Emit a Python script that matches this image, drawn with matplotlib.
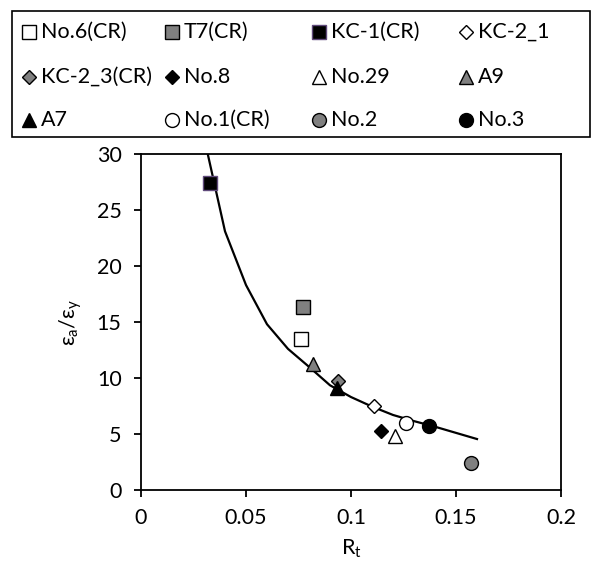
import matplotlib
matplotlib.use("Agg")
import matplotlib.pyplot as plt
from matplotlib.lines import Line2D
from matplotlib.patches import Rectangle
from matplotlib.ticker import FuncFormatter

plt.rcParams["font.family"] = ["Lato", "DejaVu Sans"]
plt.rcParams["mathtext.fontset"] = "custom"
plt.rcParams["mathtext.rm"] = "Lato"
plt.rcParams["mathtext.it"] = "Lato:italic"

# specimens, in legend order (row by row)
labels = ["No.6(CR)", "T7(CR)", "KC-1(CR)", "KC-2_1",
          "KC-2_3(CR)", "No.8", "No.29", "A9",
          "A7", "No.1(CR)", "No.2", "No.3"]
rt = [0.0760, 0.0770, 0.0329, 0.1111,
      0.0940, 0.1141, 0.1211, 0.0818,
      0.0932, 0.1262, 0.1570, 0.1371]
strain_ratio = [13.5, 16.3, 27.4, 7.5,
                9.7, 5.3, 4.8, 11.25,
                9.1, 5.95, 2.45, 5.75]

# fitted curve
fit_rt = [0.03, 0.04, 0.05, 0.06, 0.07, 0.08, 0.09, 0.10,
          0.11, 0.12, 0.13, 0.14, 0.15, 0.16]
fit_ratio = [31.5, 23.1, 18.3, 14.8, 12.6, 11.0, 9.35, 8.3,
             7.45, 6.7, 6.15, 5.65, 5.1, 4.55]

# marker styles
GREY = "#808080"
markers = ["s", "s", "s", "D", "D", "D", "^", "^", "^", "o", "o", "o"]
faces = ["white", GREY, "black", "white", GREY, "black",
         "white", GREY, "black", "white", GREY, "black"]
edges = ["black", "black", "#604A7B", "black", "black", "black",
         "black", "black", "black", "black", "black", "black"]
msizes = [9.5, 9.5, 9.5, 7, 7, 7, 10, 10, 10, 10, 10, 10]

W, H = 601, 567
FS = 15.5
fig = plt.figure(figsize=(W / 100, H / 100), dpi=100)
ax = fig.add_axes([141 / W, 1 - 490 / H, 420 / W, 336 / H])

ax.plot(fit_rt, fit_ratio, color="black", lw=1.6, zorder=2)

for i, lab in enumerate(labels):
    ax.plot([rt[i]], [strain_ratio[i]], linestyle="none",
            marker=markers[i], markersize=msizes[i],
            markerfacecolor=faces[i], markeredgecolor=edges[i],
            markeredgewidth=1.0, label=lab, zorder=3)

ax.set_xlim(0, 0.2)
ax.set_ylim(0, 30)
ax.set_xticks([0, 0.05, 0.1, 0.15, 0.2])
ax.set_yticks(range(0, 31, 5))
ax.xaxis.set_major_formatter(FuncFormatter(lambda v, p: f"{v:g}"))
ax.tick_params(direction="out", length=5, width=1.3, labelsize=FS,
               color="black")
ax.tick_params(axis="y", pad=9)
ax.tick_params(axis="x", pad=8)
for s in ax.spines.values():
    s.set_linewidth(1.3)
    s.set_color("black")

ax.set_xlabel(r"$\mathregular{R_t}$", fontsize=FS, labelpad=7)
ax.set_ylabel(r"$\mathregular{ε_a/ε_y}$", fontsize=FS, labelpad=9)

# legend box: 4 equal columns x 3 rows (Excel style)
fig.add_artist(Rectangle((12 / W, 1 - 137 / H), 578 / W, 126 / H,
                         transform=fig.transFigure, fill=False,
                         edgecolor="black", lw=1.2))
key_x = [29, 172, 319, 466]
row_y = [32, 77, 120]
for i, lab in enumerate(labels):
    r, c = divmod(i, 4)
    fy = 1 - row_y[r] / H
    fig.add_artist(Line2D([key_x[c] / W], [fy], transform=fig.transFigure,
                          linestyle="none", marker=markers[i],
                          markersize=msizes[i], markerfacecolor=faces[i],
                          markeredgecolor=edges[i], markeredgewidth=1.0))
    fig.text((key_x[c] + 12) / W, fy, lab, fontsize=FS,
             ha="left", va="center")

fig.savefig("out.png", dpi=100)
